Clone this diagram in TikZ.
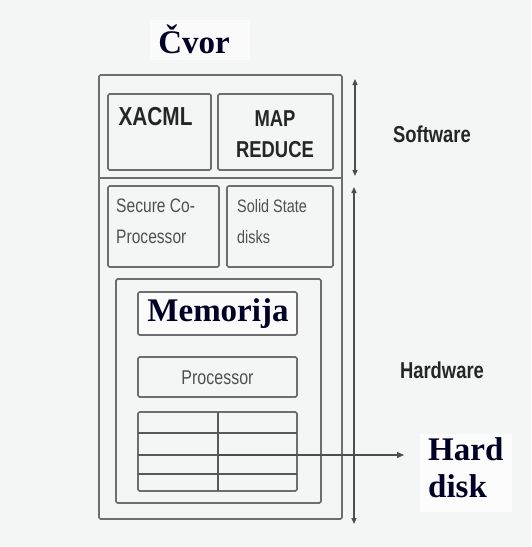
\documentclass[tikz,border=0pt]{standalone}
\usepackage{fontspec}
\setmainfont{Liberation Serif}
\newfontfamily\cnd[FakeStretch=0.8]{Liberation Sans}
\usetikzlibrary{arrows.meta}
\definecolor{bg}{HTML}{F4F5F5}
\definecolor{ln}{HTML}{6E6E6E}
\definecolor{tx}{HTML}{262626}
\definecolor{lt}{HTML}{505050}
\begin{document}
\begin{tikzpicture}[x=1pt,y=-1pt,
  box/.style={draw=ln,line width=1.7pt,rounded corners=1.5pt},
  grl/.style={draw=ln!80!black,line width=1.5pt},
  sw/.style={font=\cnd\bfseries\fontsize{26}{28}\selectfont,text=tx,align=center,inner sep=0pt},
  sl/.style={font=\cnd\fontsize{19.5}{31}\selectfont,text=lt,align=left,inner sep=0pt},
  big/.style={font=\bfseries\fontsize{33}{37}\selectfont,text=black!85!blue,inner sep=0pt,align=left},
  dim/.style={draw=ln!70!black,line width=1.4pt,{Triangle[length=6pt,width=5pt]}-{Triangle[length=6pt,width=5pt]}},
  hd/.style={draw=ln!70!black,line width=1.4pt,-{Triangle[length=7pt,width=6pt]}}]
\fill[bg] (0,0) rectangle (531,547);
\useasboundingbox (0,0) rectangle (531,547);
\fill[white!60!bg] (150,20) rectangle (250,60);
\node[big] (cvor) at (194,39) {Čvor};
% outer
\draw[box] (99,75) rectangle (342,519);
\coordinate (dl) at (99,178);
\coordinate (dr) at (342,178);
\draw[ln,line width=1.7pt] (dl) -- (dr);
% software boxes
\draw[box] (108,94) rectangle (211,170);
\draw[box] (218,94) rectangle (333,170);
\node[sw] (xacml) at (155.5,117) {XACML};
\node[sw,font=\cnd\bfseries\fontsize{23}{31}\selectfont] (mapr) at (275,134) {MAP\\REDUCE};
% hardware small boxes
\draw[box] (108,186) rectangle (219,267);
\draw[box] (227,186) rectangle (333,267);
\node[sl,anchor=west] (sec) at (116,221) {Secure Co-\\Processor};
\node[sl,font=\cnd\fontsize{18}{31}\selectfont,anchor=west] (ssd) at (237,222) {Solid State\\disks};
% inner hardware box
\draw[box] (116,279) rectangle (321,503);
\draw[box,fill=white!60!bg] (138,292) rectangle (297,335);
\node[big,font=\bfseries\fontsize{33}{37}\selectfont] (mem) at (218,314) {Memorija};
\draw[box] (138,357) rectangle (297,397);
\node[sl,font=\cnd\fontsize{20}{22}\selectfont] (proc) at (217.5,378) {Processor};
% grid (hard disk)
\draw[box] (138,412) rectangle (297,491);
\draw[grl] (218,412) -- (218,491);
\draw[grl] (138,433) -- (297,433);
\draw[grl] (138,455) -- (297,455);
\draw[grl] (138,474) -- (297,474);
\coordinate (gc) at (218,455);
\coordinate (ha) at (404,455);
\draw[hd] (gc) -- (ha);
% dimension arrows
\coordinate (s1) at (355,79);
\coordinate (s2) at (355,176);
\coordinate (h1) at (354,187);
\coordinate (h2) at (354,524);
\draw[dim] (s1) -- (s2);
\draw[dim] (h1) -- (h2);
\node[sw,font=\cnd\bfseries\fontsize{23}{26}\selectfont] (soft) at (432,134) {Software};
\node[sw,font=\cnd\bfseries\fontsize{23}{26}\selectfont] (hard) at (442,370) {Hardware};
\fill[white!70!bg] (420,434) rectangle (512,512);
\node[big,anchor=north west] (hdisk) at (428,437) {Hard\\disk};
\end{tikzpicture}
\end{document}
